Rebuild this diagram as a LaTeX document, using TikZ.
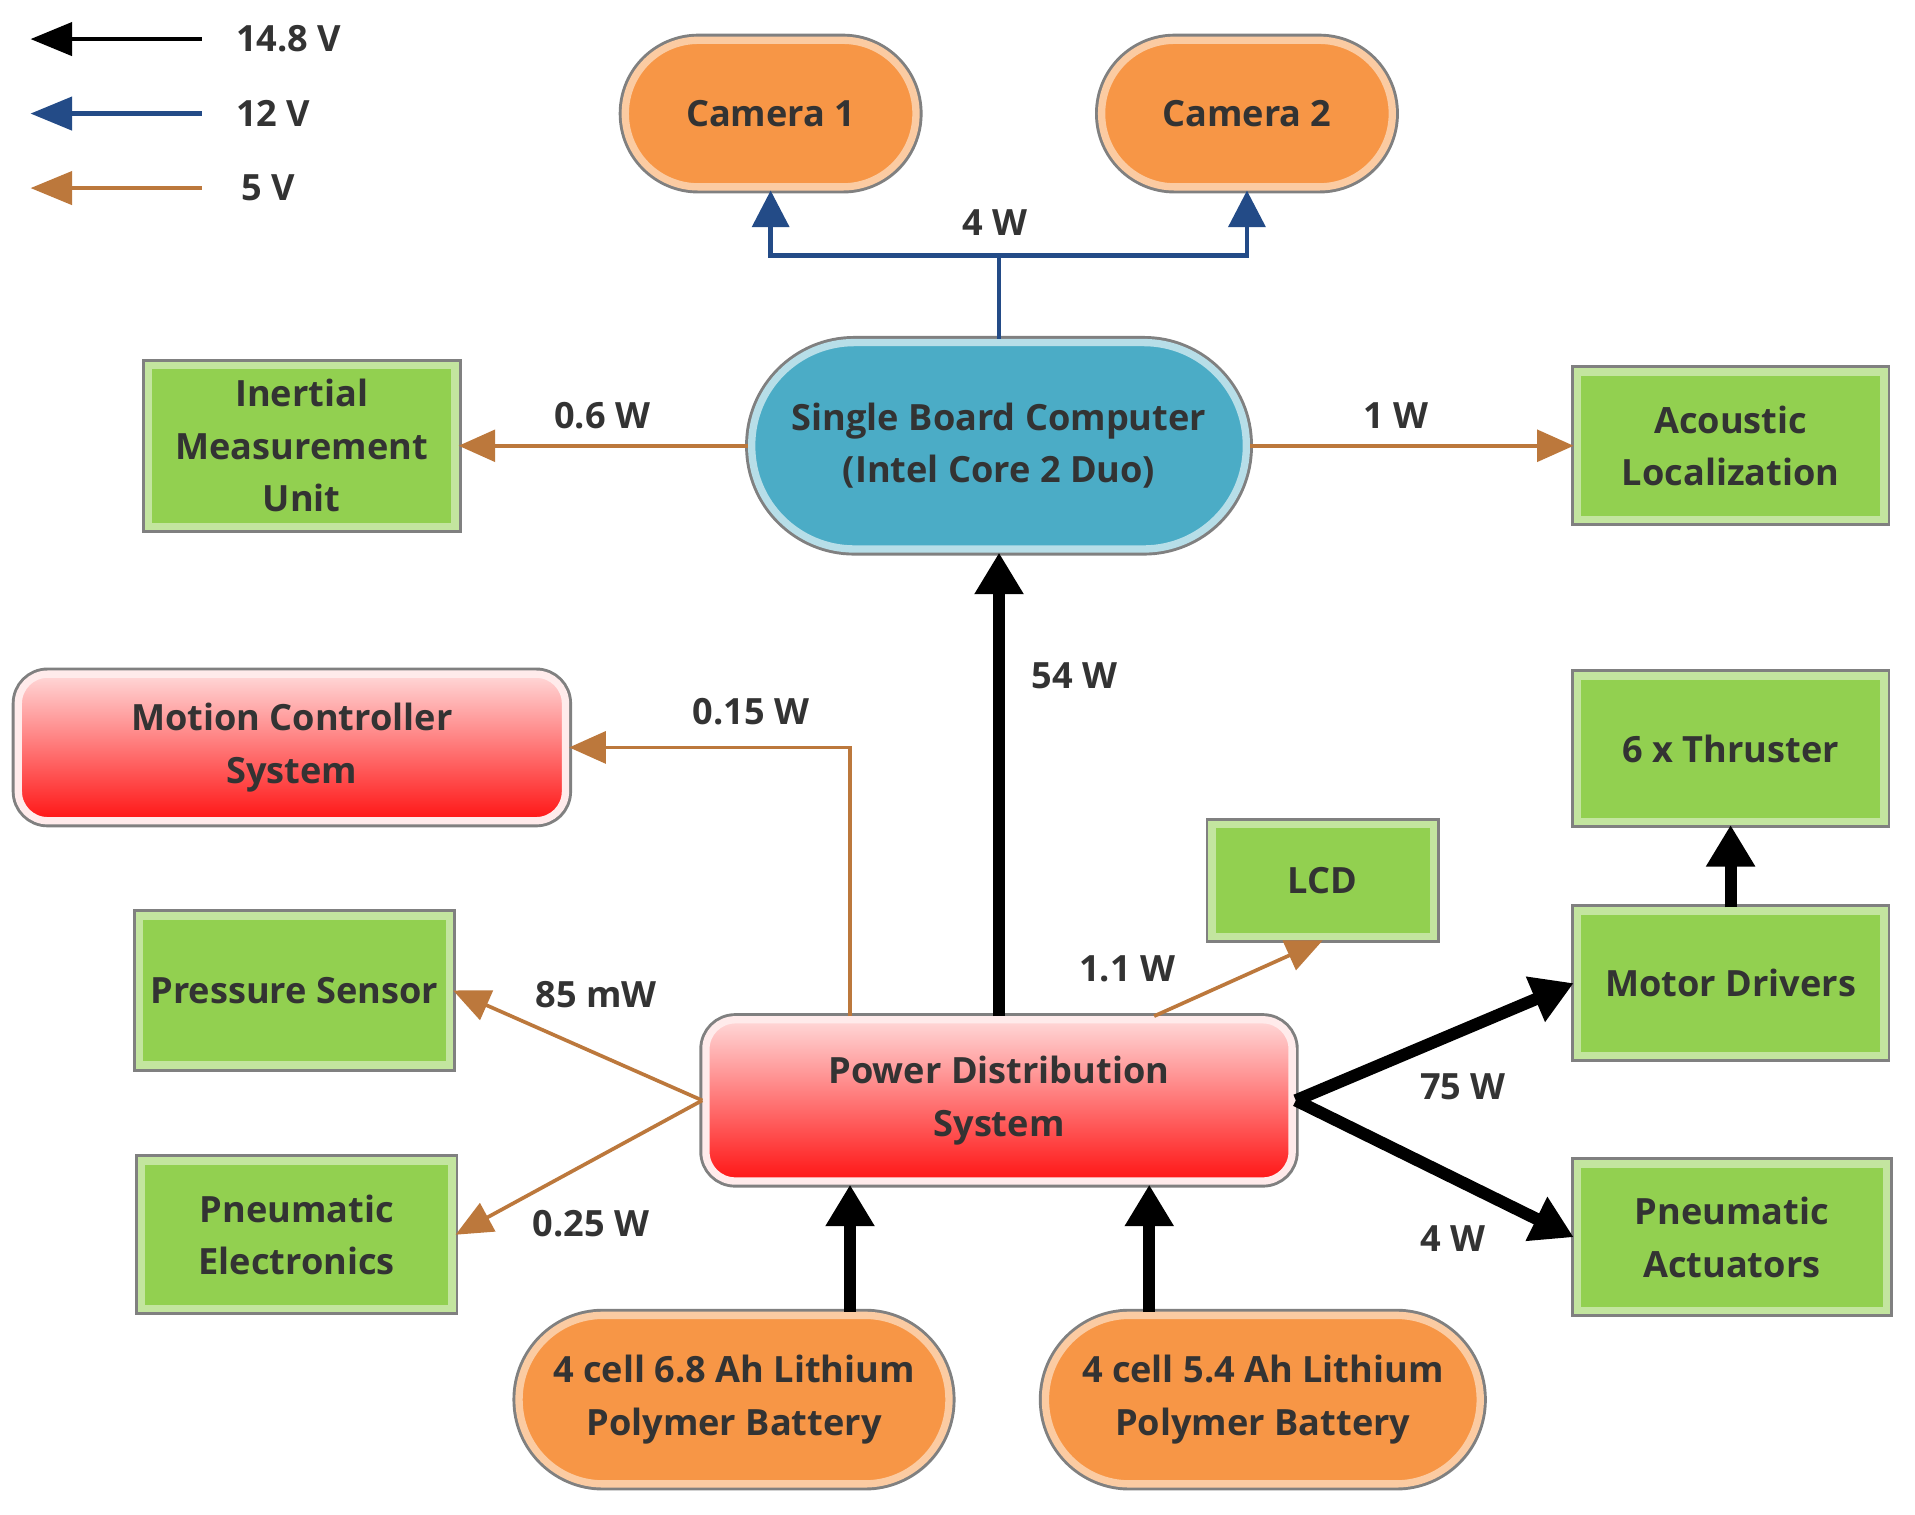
\documentclass[tikz,border=0pt]{standalone}
\usepackage{fontspec}
\setmainfont{Open Sans}
\usetikzlibrary{arrows.meta,shadows}

\definecolor{boxgreen}{HTML}{92D050}
\definecolor{boxorange}{HTML}{F79646}
\definecolor{boxblue}{HTML}{4BACC6}
\definecolor{boxedge}{HTML}{808080}
\definecolor{redtop}{HTML}{FFD8D8}
\definecolor{redbot}{HTML}{FF1414}
\definecolor{wirebrown}{HTML}{BC783C}
\definecolor{wireblue}{HTML}{234B87}
\definecolor{txtgray}{HTML}{333333}

\tikzset{
  txt/.style={text=txtgray, align=center, font=\bfseries\fontsize{14.8}{21.5}\selectfont},
  base/.style={txt, inner sep=0pt, line width=3pt,
    drop shadow={opacity=0.35, shadow xshift=2pt, shadow yshift=-2pt},
    preaction={draw=boxedge, line width=5.4pt}},
  greenbox/.style={base, rectangle, fill=boxgreen, draw=boxgreen!55!white,
    minimum width=125.5pt, minimum height=60pt},
  orangebox/.style={base, rectangle, fill=boxorange, draw=boxorange!50!white},
  bluebox/.style={base, rectangle, fill=boxblue, draw=boxblue!40!white},
  redbox/.style={base, rectangle, rounded corners=12pt, top color=redtop,
    bottom color=redbot, draw=white!92!red},
  power/.style={line width=5pt, -{Triangle[width=19pt,length=17pt]}},
  mid/.style={wireblue, line width=2pt, -{Triangle[width=15pt,length=15pt]}},
  low/.style={wirebrown, line width=1.5pt, -{Triangle[width=13pt,length=15pt]}},
  legblack/.style={black, line width=1.8pt, -{Triangle[width=13.5pt,length=17pt]}},
  legblue/.style={wireblue, line width=1.8pt, -{Triangle[width=13.5pt,length=17pt]}},
  legbrown/.style={wirebrown, line width=1.8pt, -{Triangle[width=13.5pt,length=17pt]}}
}

\begin{document}
\begin{tikzpicture}[x=0.5pt,y=-0.5pt]
\fill[white] (0,0) rectangle (1568,1240);
\useasboundingbox (0,0) rectangle (1568,1240);

% legend
\foreach \yy/\st/\lab/\xx in {32/legblack/14.8 V/193, 93/legblue/12 V/193, 154/legbrown/5 V/197} {
  \node[txt, anchor=west, inner sep=0pt] (leg\yy) at (\xx,\yy) {\lab};
  \coordinate (legA\yy) at (165,\yy);
  \coordinate (legB\yy) at (25,\yy);
  \draw[\st] (legA\yy) -- (legB\yy);
}

% boxes
\node[orangebox, minimum width=119pt, minimum height=60pt, rounded corners=29.9pt] (cam1) at (631,93) {Camera 1};
\node[orangebox, minimum width=119pt, minimum height=60pt, rounded corners=29.9pt] (cam2) at (1021,93) {Camera 2};
\node[bluebox, minimum width=202.5pt, minimum height=84.5pt, rounded corners=42pt] (sbc) at (818,365) {Single Board Computer\\(Intel Core 2 Duo)};
\node[greenbox, minimum height=66pt] (imu) at (247,365) {Inertial\\Measurement\\Unit};
\node[greenbox, minimum height=60.5pt] (acl) at (1417,365) {Acoustic\\Localization};
\node[redbox, minimum width=224pt, minimum height=60pt] (mcs) at (239,612) {Motion Controller\\System};
\node[greenbox, minimum height=59.5pt] (thr) at (1417,613) {6 x Thruster};
\node[greenbox, minimum width=90.5pt, minimum height=46pt] (lcd) at (1083,721) {LCD};
\node[greenbox, minimum width=127pt, minimum height=61pt] (prs) at (241,811) {Pressure Sensor};
\node[greenbox, minimum height=59pt] (mdr) at (1417,805) {Motor Drivers};
\node[redbox, minimum width=240pt, minimum height=66pt] (pds) at (818,901) {Power Distribution\\System};
\node[greenbox, minimum width=127pt, minimum height=60.5pt] (pne) at (243,1011) {Pneumatic\\Electronics};
\node[greenbox, minimum width=126.5pt, minimum height=60pt] (pna) at (1418,1013) {Pneumatic\\Actuators};
\node[orangebox, minimum width=176pt, minimum height=69pt, rounded corners=34.4pt] (bat1) at (601,1146) {4 cell 6.8 Ah Lithium\\Polymer Battery};
\node[orangebox, minimum width=178pt, minimum height=69pt, rounded corners=34.4pt] (bat2) at (1034,1146) {4 cell 5.4 Ah Lithium\\Polymer Battery};

% feed points
\coordinate (feedA) at (696,0);
\coordinate (feedB) at (941,0);
\coordinate (camj) at (818,209);

% 14.8 V
\draw[power] (bat1.north -| feedA) -- (pds.south -| feedA);
\draw[power] (bat2.north -| feedB) -- (pds.south -| feedB);
\draw[power] (pds.north) -- (sbc.south);
\draw[power] (pds.east) -- (mdr.west);
\draw[power] (pds.east) -- (pna.west);
\draw[power] (mdr.north) -- (thr.south);

% 12 V
\draw[wireblue, line width=2pt] (sbc.north) -- (camj);
\draw[mid] (camj) -| (cam1.south);
\draw[mid] (camj) -| (cam2.south);

% 5 V
\draw[low] (sbc.west) -- (imu.east);
\draw[low] (sbc.east) -- (acl.west);
\draw[low] (pds.north -| feedA) |- (mcs.east);
\draw[low] ([xshift=2pt]pds.north -| feedB) -- (lcd.south);
\draw[low] (pds.west) -- (prs.east);
\draw[low] (pds.west) -- (pne.east);

% power labels
\node[txt] (w4cam) at (815,182) {4 W};
\node[txt] (w06) at (493,340) {0.6 W};
\node[txt] (w1) at (1143,340) {1 W};
\node[txt] (w54) at (880,553) {54 W};
\node[txt] (w015) at (615,583) {0.15 W};
\node[txt] (w11) at (923,793) {1.1 W};
\node[txt] (w85) at (488,814) {85 mW};
\node[txt] (w025) at (484,1002) {0.25 W};
\node[txt] (w75) at (1198,890) {75 W};
\node[txt] (w4pna) at (1190,1014) {4 W};
\end{tikzpicture}
\end{document}
